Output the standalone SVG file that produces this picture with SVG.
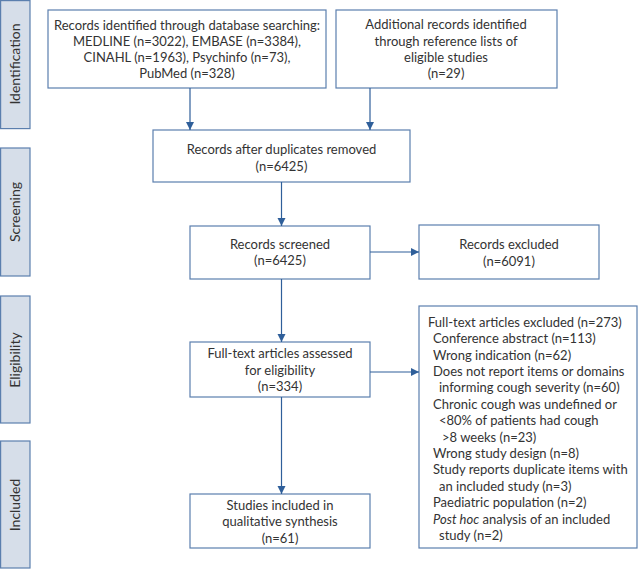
<svg xmlns="http://www.w3.org/2000/svg" width="640" height="569" viewBox="0 0 640 569">
<style>
.side{fill:#d6dee9;stroke:#5b7fae;stroke-width:1.2}
.box{fill:#fff;stroke:#5b7fae;stroke-width:1.2}
text{font-family:Lato,"Noto Sans",sans-serif;font-size:13px;fill:#333}
.st{font-size:14px}
.c{text-anchor:middle}
.conn line{stroke:#2f5f9a;stroke-width:1.2}
</style>
<defs>
<marker id="ah" markerWidth="10" markerHeight="10" refX="9" refY="5" orient="auto" markerUnits="userSpaceOnUse">
<path d="M1,1 L9,5 L1,9 z" fill="#2f5f9a"/>
</marker>
</defs>
<rect width="640" height="569" fill="#fff"/>
<g id="stage-identification"><rect class="side" x="0.6" y="0.6" width="29.4" height="128"/><text class="c st" transform="translate(20,64) rotate(-90)">Identification</text></g>
<g id="stage-screening"><rect class="side" x="0.6" y="148" width="29.4" height="128"/><text class="c st" transform="translate(20,212) rotate(-90)">Screening</text></g>
<g id="stage-eligibility"><rect class="side" x="0.6" y="296" width="29.4" height="127"/><text class="c st" transform="translate(20,360) rotate(-90)">Eligibility</text></g>
<g id="stage-included"><rect class="side" x="0.6" y="441" width="29.4" height="127"/><text class="c st" transform="translate(20,505) rotate(-90)">Included</text></g>

<g id="db-search"><rect class="box" x="48" y="10" width="278" height="78"/>
<text class="c" x="187" y="30">Records identified through database searching:</text>
<text class="c" x="187" y="46">MEDLINE (n=3022), EMBASE (n=3384),</text>
<text class="c" x="187" y="62">CINAHL (n=1963), Psychinfo (n=73),</text>
<text class="c" x="187" y="78">PubMed (n=328)</text></g>

<g id="additional"><rect class="box" x="336" y="10" width="221" height="78"/>
<text class="c" x="446" y="29">Additional records identified</text>
<text class="c" x="446" y="46">through reference lists of</text>
<text class="c" x="446" y="62">eligible studies</text>
<text class="c" x="446" y="78">(n=29)</text></g>

<g id="dedup"><rect class="box" x="153" y="130" width="257" height="52"/>
<text class="c" x="281.5" y="154">Records after duplicates removed</text>
<text class="c" x="281.5" y="171">(n=6425)</text></g>

<g id="screened"><rect class="box" x="190" y="226" width="180" height="53"/>
<text class="c" x="280" y="249">Records screened</text>
<text class="c" x="280" y="265">(n=6425)</text></g>

<g id="excluded"><rect class="box" x="419" y="225" width="180" height="54"/>
<text class="c" x="509" y="249">Records excluded</text>
<text class="c" x="509" y="266">(n=6091)</text></g>

<g id="assessed"><rect class="box" x="190" y="342" width="180" height="55"/>
<text class="c" x="280" y="358">Full-text articles assessed</text>
<text class="c" x="280" y="375">for eligibility</text>
<text class="c" x="280" y="391">(n=334)</text></g>

<g id="included"><rect class="box" x="190" y="494" width="180" height="54"/>
<text class="c" x="280" y="510">Studies included in</text>
<text class="c" x="280" y="526">qualitative synthesis</text>
<text class="c" x="280" y="543">(n=61)</text></g>

<g id="ft-excluded"><rect class="box" x="419" y="306" width="218" height="242"/>
<text x="428" y="327">Full-text articles excluded (n=273)</text>
<text x="433" y="343">Conference abstract (n=113)</text>
<text x="433" y="360">Wrong indication (n=62)</text>
<text x="433" y="376">Does not report items or domains</text>
<text x="439" y="392">informing cough severity (n=60)</text>
<text x="433" y="409">Chronic cough was undefined or</text>
<text x="439" y="425">&lt;80% of patients had cough</text>
<text x="442" y="442">&gt;8 weeks (n=23)</text>
<text x="433" y="458">Wrong study design (n=8)</text>
<text x="433" y="474">Study reports duplicate items with</text>
<text x="439" y="491">an included study (n=3)</text>
<text x="433" y="507">Paediatric population (n=2)</text>
<text x="433" y="524"><tspan font-style="italic">Post hoc</tspan> analysis of an included</text>
<text x="439" y="540">study (n=2)</text></g>

<g class="conn" id="connectors">
<line x1="190" y1="88" x2="190" y2="130" marker-end="url(#ah)"/>
<line x1="370" y1="88" x2="370" y2="130" marker-end="url(#ah)"/>
<line x1="281.5" y1="182" x2="281.5" y2="226" marker-end="url(#ah)"/>
<line x1="370" y1="252" x2="419" y2="252" marker-end="url(#ah)"/>
<line x1="281.5" y1="279" x2="281.5" y2="342" marker-end="url(#ah)"/>
<line x1="370" y1="372" x2="419" y2="372" marker-end="url(#ah)"/>
<line x1="281.5" y1="397" x2="281.5" y2="494" marker-end="url(#ah)"/>
</g>
</svg>
